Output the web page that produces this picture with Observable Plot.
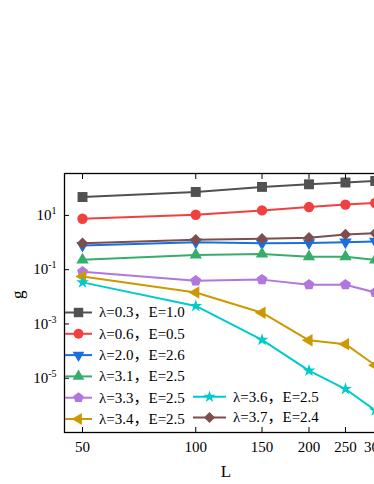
<!DOCTYPE html>
<html>
<head>
<meta charset="utf-8">
<script src="https://cdn.jsdelivr.net/npm/d3@7"></script>
<script src="https://cdn.jsdelivr.net/npm/@observablehq/plot@0.6"></script>
<style>
html, body { margin: 0; padding: 0; background: #fff; overflow: hidden; }
#chart { width: 374px; height: 484px; overflow: hidden; position: relative; }
</style>
</head>
<body>
<div id="chart"></div>
<script>
// ---- data ----
const L = [50, 100, 150, 200, 250, 300];
const xTicks = [50, 100, 150, 200, 250, 300];
const yTicks = [1e1, 1e-1, 1e-3, 1e-5];
const seriesLabels = [
  "λ=0.3，E=1.0", "λ=0.6，E=0.5", "λ=2.0，E=2.6", "λ=3.1，E=2.5",
  "λ=3.3，E=2.5", "λ=3.4，E=2.5", "λ=3.6，E=2.5", "λ=3.7，E=2.4"
];
const g_03 = [47.6, 73, 112, 140, 163, 186];
const g_06 = [7.5, 10.6, 15.3, 20.3, 25, 28.6];
const g_20 = [0.78, 1.03, 0.94, 0.97, 1.03, 1.1];
const g_31 = [0.23, 0.35, 0.38, 0.30, 0.30, 0.23];
const g_33 = [0.084, 0.039, 0.043, 0.028, 0.028, 0.0145];
const g_34 = [0.056, 0.0145, 0.0026, 2.5e-4, 1.8e-4, 3e-5];
const g_36 = [0.034, 0.0046, 2.6e-4, 1.9e-5, 4e-6, 6.5e-7];
const g_37 = [0.94, 1.26, 1.37, 1.5, 1.98, 2.2];
const allValues = [g_03, g_06, g_20, g_31, g_33, g_34, g_36, g_37];
const colors = ["#515151", "#F14040", "#1A6FDF", "#37AD6B", "#B177DE", "#CC9900", "#00CBCC", "#7D4E4E"];

// ---- custom symbols ----
const sqrt3 = Math.sqrt(3);
const triDown = {draw(c, size) {
  const y = Math.sqrt(size / (sqrt3 * 3));
  c.moveTo(0, 2 * y); c.lineTo(-sqrt3 * y, -y); c.lineTo(sqrt3 * y, -y); c.closePath();
}};
const triUp = {draw(c, size) {
  const y = Math.sqrt(size / (sqrt3 * 3));
  c.moveTo(0, -2 * y); c.lineTo(sqrt3 * y, y); c.lineTo(-sqrt3 * y, y); c.closePath();
}};
const triLeft = {draw(c, size) {
  const y = Math.sqrt(size / (sqrt3 * 3));
  c.moveTo(-2 * y, 0); c.lineTo(y, -sqrt3 * y); c.lineTo(y, sqrt3 * y); c.closePath();
}};
const pentagon = {draw(c, size) {
  const R = Math.sqrt(size / (2.5 * Math.sin(2 * Math.PI / 5)));
  for (let k = 0; k < 5; k++) {
    const a = -Math.PI / 2 + k * 2 * Math.PI / 5;
    const px = R * Math.cos(a), py = R * Math.sin(a);
    if (k) c.lineTo(px, py); else c.moveTo(px, py);
  }
  c.closePath();
}};
const symbols = [d3.symbolSquare, d3.symbolCircle, triDown, triUp, pentagon, triLeft, d3.symbolStar, d3.symbolDiamond2];
const radii = [5.6, 5.2, 4.6, 4.6, 5.0, 4.6, 4.0, 5.2];

const series = allValues.map((vals, i) => L.map((l, j) => ({L: l, g: vals[j]})));

const FONT = "'Liberation Serif', 'Noto Sans CJK SC', serif";

const marks = [];
series.forEach((rows, i) => {
  marks.push(Plot.line(rows, {x: "L", y: "g", stroke: colors[i], strokeWidth: 2}));
  marks.push(Plot.dot(rows, {x: "L", y: "g", fill: colors[i], stroke: "none", symbol: symbols[i], r: radii[i]}));
});

const plot = Plot.plot({
  width: 400,
  height: 484,
  marginTop: 173,
  marginBottom: 52,
  marginLeft: 64,
  marginRight: 5,
  style: {fontFamily: FONT, fontSize: "15px", background: "#fff", maxWidth: "none", color: "#000"},
  x: {type: "log", domain: [44.78, 339.6]},
  y: {type: "log", domain: [1e-7, 350]},
  marks: [
    ...marks,
    Plot.frame({stroke: "#000", strokeWidth: 1.3}),
    Plot.axisX(xTicks, {anchor: "bottom", tickSize: -5, tickPadding: 14, label: null, tickFormat: d => String(d), fontSize: 15}),
    Plot.axisX(xTicks, {anchor: "top", tickSize: -5, label: null, tickFormat: () => ""}),
    Plot.axisY(yTicks, {anchor: "left", tickSize: -5, tickPadding: 13, label: null,
      tickFormat: d => "10^" + Math.round(Math.log10(d)), fontSize: 15}),
    Plot.text(["L"], {frameAnchor: "bottom", text: d => d, dy: 44, dx: -4, fontSize: 17}),
    Plot.text(["g"], {frameAnchor: "left", text: d => d, dx: -47, dy: -4, rotate: -90, fontSize: 17})
  ]
});

document.getElementById("chart").appendChild(plot);

// superscript exponents on y tick labels
d3.select(plot).selectAll('g[aria-label="y-axis tick label"] text').each(function() {
  const t = d3.select(this);
  const s = t.text();
  if (s.indexOf("^") < 0) return;
  const [base, exp] = s.split("^");
  t.text(base);
  t.append("tspan").attr("dy", -6).attr("font-size", 10).text(exp);
});

// legend (inside plot frame)
const leg = d3.select(plot).append("g")
  .attr("font-family", FONT).attr("font-size", 15).attr("text-anchor", "start");
const legendLayout = [
  {x0: 65, x1: 92, tx: 99, y: 312.5},
  {x0: 65, x1: 92, tx: 99, y: 333.8},
  {x0: 65, x1: 92, tx: 99, y: 355.1},
  {x0: 65, x1: 92, tx: 99, y: 376.4},
  {x0: 65, x1: 92, tx: 99, y: 397.7},
  {x0: 65, x1: 92, tx: 99, y: 419.0},
  {x0: 193, x1: 226, tx: 233, y: 396.8},
  {x0: 193, x1: 226, tx: 233, y: 417.6}
];
seriesLabels.forEach((label, i) => {
  const p = legendLayout[i];
  const cx = (p.x0 + p.x1) / 2;
  leg.append("line").attr("x1", p.x0).attr("x2", p.x1).attr("y1", p.y).attr("y2", p.y)
    .attr("stroke", colors[i]).attr("stroke-width", 2);
  const r = radii[i] * 0.95;
  leg.append("path").attr("d", d3.symbol(symbols[i], r * r * Math.PI)())
    .attr("transform", `translate(${cx},${p.y})`).attr("fill", colors[i]);
  leg.append("text").attr("x", p.tx).attr("y", p.y).attr("dy", "0.32em")
    .attr("text-anchor", "start").attr("fill", "#000").text(label);
});
</script>
</body>
</html>
